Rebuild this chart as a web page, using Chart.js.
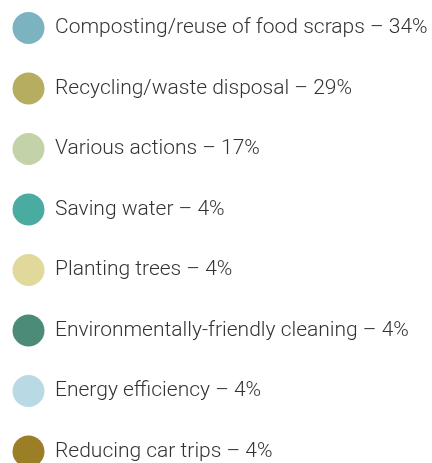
<!DOCTYPE html>
<html>
<head>
<meta charset="utf-8">
<script src="https://cdn.jsdelivr.net/npm/chart.js@4"></script>
<style>
  html, body { margin: 0; padding: 0; background: #fff; overflow: hidden; }
  #wrap { position: relative; width: 900px; height: 520px; }
</style>
</head>
<body>
<div id="wrap"><canvas id="chart"></canvas></div>
<script>
// Hvad borgerne gør for miljøet (andel i procent)
const actions = [
    'Composting/reuse of food scraps',
    'Recycling/waste disposal',
    'Various actions',
    'Saving water',
    'Planting trees',
    'Environmentally-friendly cleaning',
    'Energy efficiency',
    'Reducing car trips'
];

const shares = [34, 29, 17, 4, 4, 4, 4, 4];

const sliceColors = [
    '#7bb4c0',
    '#b6ad61',
    '#c3d2a9',
    '#4aaca1',
    '#e1d99b',
    '#4b8b77',
    '#b9d9e5',
    '#9c7e26'
];

const ctx = document.querySelector('#chart');

new Chart(ctx, {
    type: 'doughnut',
    data: {
        labels: actions,
        datasets: [{
            data: shares,
            backgroundColor: sliceColors,
            borderWidth: 0
        }]
    },
    options: {
        responsive: true,
        maintainAspectRatio: false,
        animation: false,
        layout: {
            // Legenden skubbes helt op i hjørnet.
            padding: { left: -16, top: -16.5 }
        },
        plugins: {
            tooltip: {
                enabled: false
            },
            // Legenden står til venstre, med procent i teksten.
            legend: {
                position: 'left',
                align: 'start',
                maxWidth: 450,
                labels: {
                    boxWidth: 32,
                    boxHeight: 32,
                    useBorderRadius: true,
                    borderRadius: 16,
                    padding: 28.5,
                    color: '#333333',
                    font: {
                        family: 'Roboto, "Liberation Sans", sans-serif',
                        weight: 300,
                        size: 21
                    },
                    generateLabels: function (chart) {
                        const ds = chart.data.datasets[0];
                        return chart.data.labels.map((label, i) => ({
                            text: label + ' – ' + ds.data[i] + '%',
                            fillStyle: ds.backgroundColor[i],
                            strokeStyle: ds.backgroundColor[i],
                            lineWidth: 0,
                            borderRadius: 16,
                            fontColor: '#333333',
                            hidden: false,
                            index: i
                        }));
                    }
                }
            }
        }
    }
});
</script>
</body>
</html>
